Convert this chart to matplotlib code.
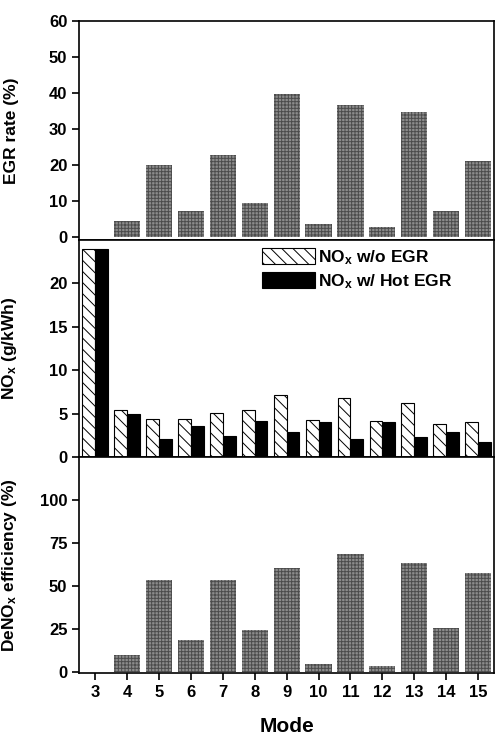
import numpy as np
import matplotlib
matplotlib.use('Agg')
import matplotlib.pyplot as plt

plt.rcParams['font.family'] = ['Liberation Sans', 'DejaVu Sans']
plt.rcParams['font.weight'] = 'bold'
plt.rcParams['mathtext.fontset'] = 'custom'
plt.rcParams['mathtext.rm'] = 'Liberation Sans:bold'
plt.rcParams['mathtext.it'] = 'Liberation Sans:bold'
plt.rcParams['mathtext.bf'] = 'Liberation Sans:bold'
plt.rcParams['hatch.linewidth'] = 0.7

# data
modes = [3, 4, 5, 6, 7, 8, 9, 10, 11, 12, 13, 14, 15]
egr_rate = [0, 4.6, 20.1, 7.4, 22.9, 9.6, 39.9, 3.7, 36.8, 3.0, 34.7, 7.4, 21.3]
nox_wo_egr = [24.0, 5.4, 4.35, 4.35, 5.1, 5.45, 7.1, 4.25, 6.85, 4.15, 6.25, 3.85, 4.05]
nox_hot_egr = [24.0, 4.9, 2.1, 3.55, 2.4, 4.1, 2.85, 4.05, 2.1, 4.05, 2.25, 2.85, 1.7]
denox_eff = [0, 10.2, 53.5, 18.8, 53.8, 24.6, 60.6, 4.6, 68.7, 3.5, 63.5, 25.8, 57.7]

x = np.array(modes)
gray_kw = dict(width=0.82, color='#8c8c8c', edgecolor='#4c4c4c', hatch='+++++', linewidth=0)

fig = plt.figure(figsize=(4.95, 7.38), dpi=100)
left, width = 0.16, 0.838
ax1 = fig.add_axes([left, 0.6748, width, 0.2967])
ax2 = fig.add_axes([left, 0.3808, width, 0.2940], sharex=ax1)
ax3 = fig.add_axes([left, 0.0880, width, 0.2928], sharex=ax1)

# EGR rate
ax1.bar(x, egr_rate, **gray_kw)
ax1.set_ylim(-0.7, 60)
ax1.set_yticks([0, 10, 20, 30, 40, 50, 60])
ax1.set_ylabel('EGR rate (%)', fontsize=12.5, fontweight='bold')

# NOx
ax2.bar(x - 0.2, nox_wo_egr, width=0.4, facecolor='white', edgecolor='black',
        hatch='\\\\\\', linewidth=0.8, label='NO$_x$ w/o EGR')
ax2.bar(x + 0.2, nox_hot_egr, width=0.4, facecolor='black', edgecolor='black',
        linewidth=0.8, label='NO$_x$ w/ Hot EGR')
ax2.set_ylim(0, 25)
ax2.set_yticks([0, 5, 10, 15, 20])
ax2.set_ylabel('NO$_x$ (g/kWh)', fontsize=12.5, fontweight='bold')
ax2.legend(loc='upper left', bbox_to_anchor=(0.425, 0.995), frameon=False,
           fontsize=12.5, handlelength=3.0, handleheight=1.0, labelspacing=0.3,
           handletextpad=0.2, borderaxespad=0)

# DeNOx efficiency
ax3.bar(x, denox_eff, **gray_kw)
ax3.set_ylim(-0.5, 125)
ax3.set_yticks([0, 25, 50, 75, 100])
ax3.set_ylabel('DeNO$_x$ efficiency (%)', fontsize=12.5, fontweight='bold')
ax3.set_xlim(2.5, 15.5)
ax3.set_xticks(modes)
ax3.set_xlabel('Mode', fontsize=15, fontweight='bold', labelpad=12)

for ax in (ax1, ax2, ax3):
    ax.tick_params(axis='both', labelsize=12, direction='out', length=5, width=1.2)
    for s in ax.spines.values():
        s.set_linewidth(1.2)
    ax.yaxis.set_label_coords(-0.145, 0.5)
for ax in (ax1, ax2):
    ax.tick_params(axis='x', which='both', bottom=False, labelbottom=False)

fig.savefig('out.png', dpi=100)
